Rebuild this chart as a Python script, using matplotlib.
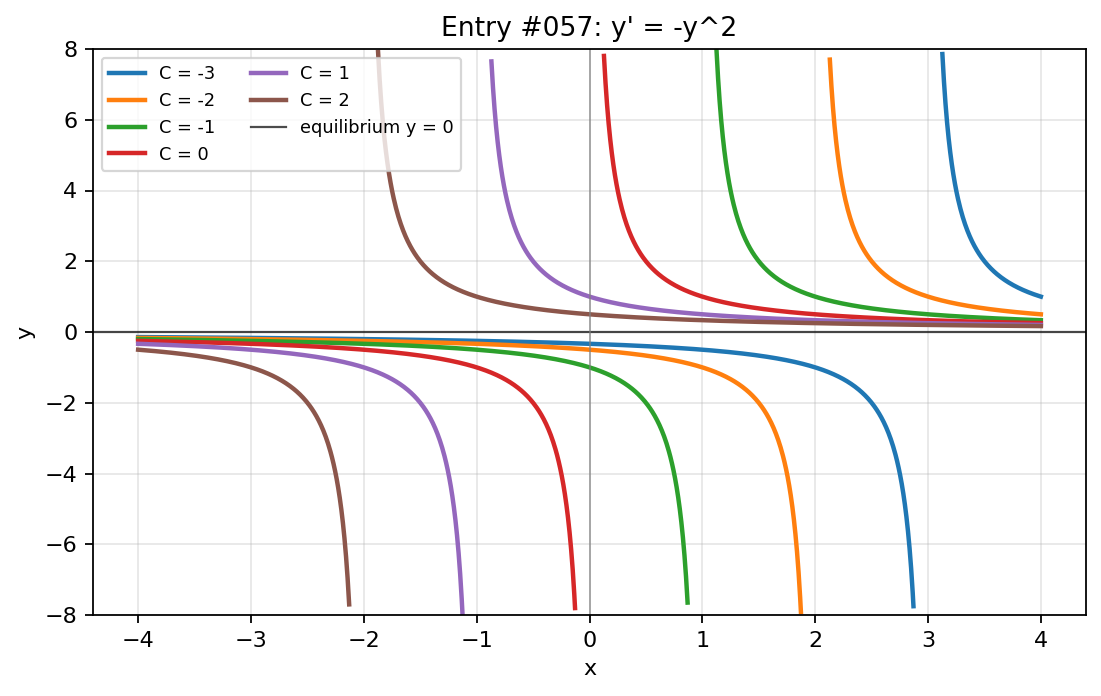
import numpy as np
import matplotlib
matplotlib.use("Agg")
import matplotlib.pyplot as plt

# integration constants for y = 1 / (x + C), solutions of y' = -y^2
c_values = [-3, -2, -1, 0, 1, 2]
x_range = (-4, 4)
n_points = 1156
y_limit = 8

fig, ax = plt.subplots(figsize=(1101 / 160, 696 / 160), dpi=160)

x = np.linspace(x_range[0], x_range[1], n_points)
for c in c_values:
    with np.errstate(divide='ignore'):
        y = 1.0 / (x + c)
    y[np.abs(y) > y_limit] = np.nan
    ax.plot(x, y, lw=2, label=f"C = {c}")

ax.axhline(0, color='black', lw=1, alpha=0.7, label='equilibrium y = 0')
ax.axvline(0, color='gray', lw=0.8, alpha=0.7)

ax.set_ylim(-y_limit, y_limit)
ax.set_xlabel('x')
ax.set_ylabel('y')
ax.set_title("Entry #057: y' = -y^2")
ax.grid(True, alpha=0.3)
ax.legend(ncol=2, fontsize=8, loc='upper left')

fig.subplots_adjust(left=93 / 1101, right=1086 / 1101, top=1 - 49 / 696, bottom=1 - 615 / 696)
fig.savefig('out.png')
